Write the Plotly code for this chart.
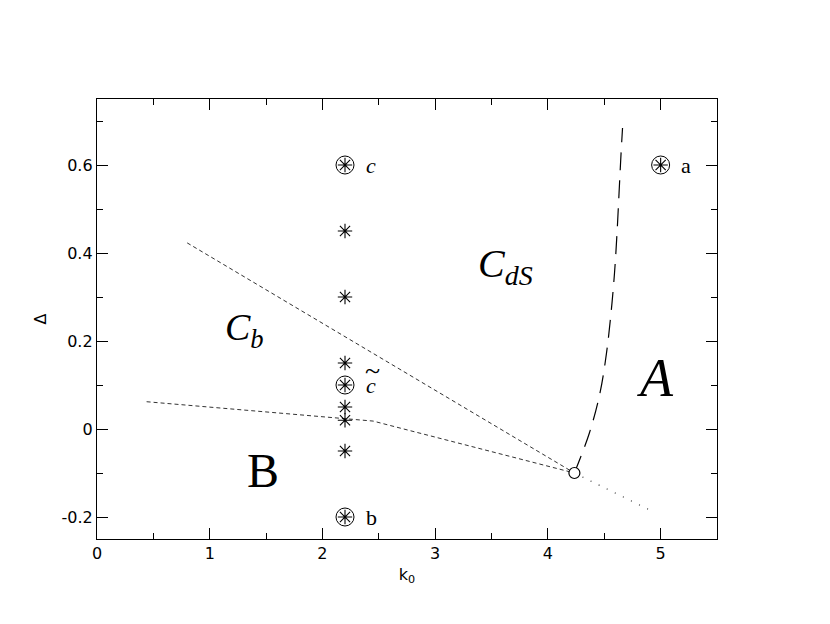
import plotly.graph_objects as go

# sampled points (k0, Delta)
star_k = [2.2, 2.2, 2.2, 2.2, 2.2, 2.2, 2.2, 2.2, 2.2, 5.0]
star_d = [0.6, 0.45, 0.3, 0.15, 0.1, 0.05, 0.02, -0.05, -0.2, 0.6]
ring_k = [2.2, 2.2, 2.2, 5.0]
ring_d = [0.6, 0.1, -0.2, 0.6]

# boundaries
upper_k = [0.8, 4.235]
upper_d = [0.423, -0.1]
lower_k = [0.44, 2.2, 2.45, 2.6, 4.235]
lower_d = [0.062, 0.022, 0.018, 0.008, -0.1]
dot_k = [4.235, 4.95]
dot_d = [-0.1, -0.19]
long_k = [4.235, 4.368, 4.462, 4.52, 4.56, 4.591, 4.613, 4.631, 4.649, 4.662]
long_d = [-0.1, -0.009, 0.082, 0.173, 0.264, 0.355, 0.445, 0.536, 0.627, 0.684]
tri_k = [4.235]
tri_d = [-0.1]

x_ticks = [0, 1, 2, 3, 4, 5]
y_ticks = [-0.2, 0, 0.2, 0.4, 0.6]
y_ticktext = ["-0.2", "0", "0.2", "0.4", "0.6"]

fig = go.Figure()
fig.add_trace(go.Scatter(x=upper_k, y=upper_d, mode="lines",
                         line=dict(color="#333", width=1, dash="4px,3px")))
fig.add_trace(go.Scatter(x=lower_k, y=lower_d, mode="lines",
                         line=dict(color="#333", width=1, dash="4px,3px")))
fig.add_trace(go.Scatter(x=dot_k, y=dot_d, mode="lines",
                         line=dict(color="#333", width=1.2, dash="1px,8px")))
fig.add_trace(go.Scatter(x=long_k, y=long_d, mode="lines", line_shape="spline",
                         line=dict(color="black", width=1.2, dash="18px,10px")))
fig.add_trace(go.Scatter(x=tri_k, y=tri_d, mode="markers",
                         marker=dict(symbol="circle", size=11, color="white",
                                     line=dict(color="black", width=1.2))))
fig.add_trace(go.Scatter(x=star_k, y=star_d, mode="markers",
                         marker=dict(symbol="asterisk-open", size=12, color="black",
                                     line=dict(color="black", width=1.1))))
fig.add_trace(go.Scatter(x=ring_k, y=ring_d, mode="markers",
                         marker=dict(symbol="circle-open", size=18, color="black",
                                     line=dict(color="black", width=1))))

serif = "Liberation Serif"
labels = [
    (2.37, 0.6, "<i>c</i>", 22, "left", 0),
    (2.37, 0.1, "<i>c</i>", 22, "left", 0),
    (2.36, 0.1, "~", 28, "left", 15),
    (2.37, -0.2, "b", 22, "left", 0),
    (5.16, 0.6, "a", 22, "left", 0),
    (1.31, 0.225, "<i>C<sub>b</sub></i>", 38, "center", 0),
    (3.62, 0.37, "<i>C<sub>dS</sub></i>", 40, "center", 0),
    (4.95, 0.115, "<i>A</i>", 54, "center", 0),
    (1.47, -0.095, "B", 48, "center", 0),
]
for x, y, t, s, a, ys in labels:
    fig.add_annotation(x=x, y=y, text=t, showarrow=False, xanchor=a, yshift=ys,
                       font=dict(family=serif, size=s, color="black"))

axis = dict(showgrid=False, zeroline=False, showline=True, linecolor="black",
            linewidth=1.3, mirror="ticks", ticks="inside", ticklen=11,
            tickwidth=1, tickcolor="black", automargin=False,
            tickfont=dict(family="DejaVu Sans", size=16, color="black"))
fig.update_xaxes(range=[0, 5.5], tickvals=x_ticks,
                 minor=dict(dtick=0.5, ticks="inside", ticklen=6, tickcolor="black"),
                 title=dict(text="k<sub>0</sub>", standoff=6,
                            font=dict(family="DejaVu Sans", size=16, color="black")),
                 **axis)
fig.update_yaxes(range=[-0.25, 0.75], tickvals=y_ticks, ticktext=y_ticktext,
                 minor=dict(dtick=0.1, ticks="inside", ticklen=6, tickcolor="black"),
                 title=dict(text="Δ", standoff=10,
                            font=dict(family="DejaVu Sans", size=16, color="black")),
                 **axis)
fig.update_layout(width=830, height=624, showlegend=False,
                  margin=dict(l=89, r=121, t=91, b=93),
                  plot_bgcolor="white", paper_bgcolor="white")
fig.write_html("out.html")
